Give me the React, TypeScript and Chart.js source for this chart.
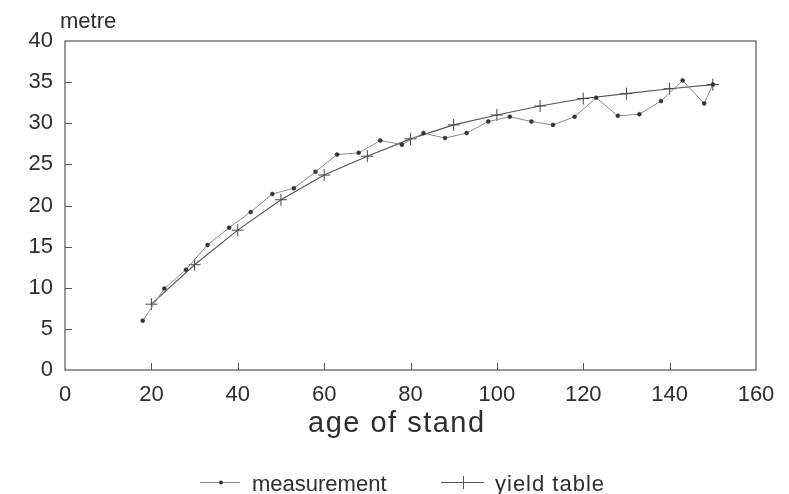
import React, { useEffect, useRef } from "react";
import { Chart, registerables } from "chart.js";

Chart.register(...registerables);

const measurementAge = [18, 23, 28, 33, 38, 43, 48, 53, 58, 63, 68, 73, 78, 83, 88, 93, 98, 103, 108, 113, 118, 123, 128, 133, 138, 143, 148, 150];
const measurementHeight = [6.0, 9.9, 12.2, 15.2, 17.3, 19.2, 21.4, 22.1, 24.1, 26.2, 26.4, 27.9, 27.4, 28.8, 28.2, 28.8, 30.2, 30.8, 30.2, 29.8, 30.8, 33.1, 30.9, 31.1, 32.7, 35.2, 32.4, 34.7];
const yieldAge = [20, 30, 40, 50, 60, 70, 80, 90, 100, 110, 120, 130, 140, 150];
const yieldHeight = [8.0, 12.8, 17.0, 20.7, 23.7, 26.0, 28.1, 29.8, 31.0, 32.1, 33.0, 33.6, 34.2, 34.7];
const xTicks = [0, 20, 40, 60, 80, 100, 120, 140, 160];
const yTicks = [0, 5, 10, 15, 20, 25, 30, 35, 40];
const seriesLabels = ["measurement", "yield table"];
const xTitle = "age of stand";
const yTitle = "metre";

const FONT = "'Liberation Sans', Arial, Helvetica, sans-serif";
const TEXT = "#2e2e2e";
const AXIS = "#555";
const MEAS_LINE = "#8a8a8a";
const YIELD_LINE = "#555";

const decorPlugin = {
  id: "decor",
  afterDraw(chart: any) {
    const { ctx, chartArea } = chart;
    const xs = chart.scales.x;
    const ys = chart.scales.y;
    ctx.save();
    // box
    ctx.strokeStyle = AXIS;
    ctx.lineWidth = 1.2;
    ctx.strokeRect(chartArea.left, chartArea.top, chartArea.right - chartArea.left, chartArea.bottom - chartArea.top);
    // inside ticks
    ctx.lineWidth = 1;
    ctx.beginPath();
    xTicks.forEach((v) => {
      if (v === xs.min || v === xs.max) return;
      const px = Math.round(xs.getPixelForValue(v)) + 0.5;
      ctx.moveTo(px, chartArea.bottom);
      ctx.lineTo(px, chartArea.bottom - 7);
    });
    yTicks.forEach((v) => {
      if (v === ys.min || v === ys.max) return;
      const py = Math.round(ys.getPixelForValue(v)) + 0.5;
      ctx.moveTo(chartArea.left, py);
      ctx.lineTo(chartArea.left + 7, py);
    });
    ctx.stroke();

    // titles
    ctx.fillStyle = TEXT;
    ctx.font = `22px ${FONT}`;
    ctx.textAlign = "left";
    ctx.textBaseline = "alphabetic";
    ctx.fillText(yTitle, 60, 28);
    ctx.font = `29px ${FONT}`;
    ctx.textAlign = "left";
    (ctx as any).letterSpacing = "1.5px";
    ctx.fillText(xTitle, 308, 432);
    (ctx as any).letterSpacing = "0px";

    // legend
    const ly = 482;
    ctx.strokeStyle = MEAS_LINE;
    ctx.lineWidth = 1;
    ctx.beginPath();
    ctx.moveTo(200, ly + 0.5);
    ctx.lineTo(240, ly + 0.5);
    ctx.stroke();
    ctx.fillStyle = "#333";
    ctx.beginPath();
    ctx.arc(221, ly + 0.5, 2, 0, Math.PI * 2);
    ctx.fill();

    ctx.strokeStyle = YIELD_LINE;
    ctx.beginPath();
    ctx.moveTo(441, ly + 0.5);
    ctx.lineTo(484, ly + 0.5);
    ctx.moveTo(463.5, ly - 6);
    ctx.lineTo(463.5, ly + 7);
    ctx.stroke();

    ctx.fillStyle = TEXT;
    ctx.font = `22px ${FONT}`;
    ctx.textAlign = "left";
    ctx.textBaseline = "alphabetic";
    ctx.fillText(seriesLabels[0], 252, 491);
    (ctx as any).letterSpacing = "1px";
    ctx.fillText(seriesLabels[1], 495, 491);
    (ctx as any).letterSpacing = "0px";
    ctx.restore();
  },
};

export default function App() {
  const ref = useRef<HTMLCanvasElement>(null);
  useEffect(() => {
    if (!ref.current) return;
    const chart = new Chart(ref.current, {
      type: "line",
      data: {
        datasets: [
          {
            label: seriesLabels[0],
            data: measurementAge.map((a, i) => ({ x: a, y: measurementHeight[i] })),
            borderColor: MEAS_LINE,
            borderWidth: 1,
            pointStyle: "circle",
            pointRadius: 2,
            pointBackgroundColor: "#333",
            pointBorderColor: "#333",
            pointBorderWidth: 0.5,
            tension: 0,
            fill: false,
          },
          {
            label: seriesLabels[1],
            data: yieldAge.map((a, i) => ({ x: a, y: yieldHeight[i] })),
            borderColor: YIELD_LINE,
            borderWidth: 1.1,
            pointStyle: "cross",
            pointRadius: 6,
            pointBorderColor: "#444",
            pointBorderWidth: 1,
            tension: 0,
            fill: false,
          },
        ],
      },
      options: {
        animation: false,
        responsive: false,
        maintainAspectRatio: false,
        layout: { padding: { top: 41, right: 33, left: 0, bottom: 0 } },
        plugins: { legend: { display: false }, tooltip: { enabled: false } },
        scales: {
          x: {
            type: "linear",
            min: 0,
            max: 160,
            afterBuildTicks: (s: any) => {
              s.ticks = xTicks.map((v) => ({ value: v }));
            },
            afterFit: (s: any) => {
              s.height = 124;
            },
            grid: { display: false, drawTicks: false },
            border: { display: false },
            ticks: {
              autoSkip: false,
              maxRotation: 0,
              padding: 12,
              color: TEXT,
              font: { size: 22, family: FONT },
            },
          },
          y: {
            type: "linear",
            min: 0,
            max: 40,
            afterBuildTicks: (s: any) => {
              s.ticks = yTicks.map((v) => ({ value: v }));
            },
            afterFit: (s: any) => {
              s.width = 65;
            },
            grid: { display: false, drawTicks: false },
            border: { display: false },
            ticks: {
              autoSkip: false,
              padding: 12,
              color: TEXT,
              font: { size: 22, family: FONT },
            },
          },
        },
      },
      plugins: [decorPlugin],
    });
    return () => chart.destroy();
  }, []);
  return (
    <div style={{ position: "absolute", left: 0, top: 0, width: 789, height: 494, background: "#fff" }}>
      <canvas ref={ref} width={789} height={494} style={{ display: "block" }} />
    </div>
  );
}
